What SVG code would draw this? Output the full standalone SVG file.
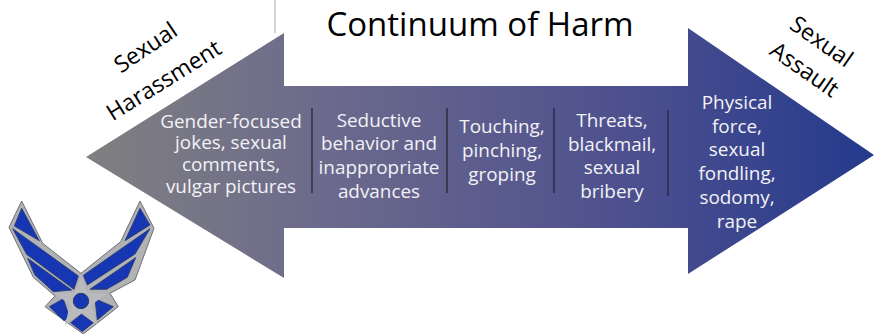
<svg xmlns="http://www.w3.org/2000/svg" width="874" height="334" viewBox="0 0 874 334">
<defs>
<linearGradient id="g" gradientUnits="userSpaceOnUse" x1="86" y1="0" x2="874" y2="0">
<stop offset="0" stop-color="#808080"/><stop offset="0.3" stop-color="#6c6a8c"/><stop offset="0.7" stop-color="#4c4f8e"/><stop offset="1" stop-color="#243a8c"/>
</linearGradient>
</defs>
<style>
text{font-family:"Open Sans","Noto Sans",sans-serif}
.w{fill:#f2f2f6;font-size:18.9px;text-anchor:middle}
.k{fill:#000;font-size:23px;text-anchor:middle}
.d{stroke:#26263a;stroke-width:1.3;fill:none}
.bl{fill:#1636b4;stroke:#2a3a66;stroke-width:2.5;stroke-linejoin:round}
</style>
<line x1="275" y1="0" x2="275" y2="33" stroke="#d4d4d4" stroke-width="2"/>
<g id="arrow"><path d="M86 157L284 33V86H688V28L874 155L688 274V228H284V278Z" fill="url(#g)"/></g>
<g id="title"><text x="480" y="36" style="font-size:33px;text-anchor:middle">Continuum of Harm</text></g>
<g id="label-harassment">
<text class="k" transform="translate(150 54) rotate(-34)">Sexual</text>
<text class="k" transform="translate(168 87) rotate(-32)">Harassment</text>
</g>
<g id="label-assault">
<text class="k" transform="translate(817 48) rotate(35)">Sexual</text>
<text class="k" transform="translate(800 76) rotate(35)">Assault</text>
</g>
<g id="connectors">
<line class="d" x1="312" y1="108" x2="312" y2="193"/>
<line class="d" x1="447" y1="108" x2="447" y2="193"/>
<line class="d" x1="554" y1="108" x2="554" y2="193"/>
<line class="d" x1="668" y1="110" x2="668" y2="196"/>
</g>
<g id="node1"><text class="w"><tspan x="231" y="128">Gender-focused</tspan><tspan x="231" y="149">jokes, sexual</tspan><tspan x="231" y="171">comments,</tspan><tspan x="231" y="193">vulgar pictures</tspan></text></g>
<g id="node2"><text class="w"><tspan x="379" y="127">Seductive</tspan><tspan x="379" y="150">behavior and</tspan><tspan x="379" y="174">inappropriate</tspan><tspan x="379" y="198">advances</tspan></text></g>
<g id="node3"><text class="w"><tspan x="502" y="133">Touching,</tspan><tspan x="502" y="157">pinching,</tspan><tspan x="502" y="181">groping</tspan></text></g>
<g id="node4"><text class="w"><tspan x="612" y="127">Threats,</tspan><tspan x="612" y="151">blackmail,</tspan><tspan x="612" y="174">sexual</tspan><tspan x="612" y="198">bribery</tspan></text></g>
<g id="node5"><text class="w"><tspan x="737" y="109">Physical</tspan><tspan x="737" y="133">force,</tspan><tspan x="737" y="156">sexual</tspan><tspan x="737" y="180">fondling,</tspan><tspan x="737" y="204">sodomy,</tspan><tspan x="737" y="228">rape</tspan></text></g>
<g id="emblem" transform="translate(0 190) scale(.3333)">
<path d="M243 250L128 160L65 33L27 112L100 262L165 318L135 350L250 432L355 350L330 310L405 270L462 115L420 33L362 155Z" fill="#b0b2b6" stroke="#6b6e74" stroke-width="3" stroke-linejoin="round"/>
<path class="bl" d="M65 55L118 152L43 108Z"/>
<path class="bl" d="M38 116L235 258L222 298L80 193Z"/>
<path class="bl" d="M83 205L215 300L160 305L105 255Z"/>
<path class="bl" d="M420 55L450 105L375 152Z"/>
<path class="bl" d="M450 116L405 192L262 285L250 256Z"/>
<path class="bl" d="M407 203L382 262L320 298L270 298Z"/>
<path class="bl" d="M148 350L190 326L208 380L192 392Z"/>
<path class="bl" d="M212 398L245 372L280 398L247 425Z"/>
<path class="bl" d="M285 326L340 350L292 390Z"/>
<path d="M243 258L262 310L320 310L275 345L292 405L243 370L195 405L210 345L165 310L222 310Z" fill="#b8babe"/>
<circle cx="243" cy="333" r="23" fill="#1636b4" stroke="#2c3a5c" stroke-width="3"/>
</g>
</svg>
